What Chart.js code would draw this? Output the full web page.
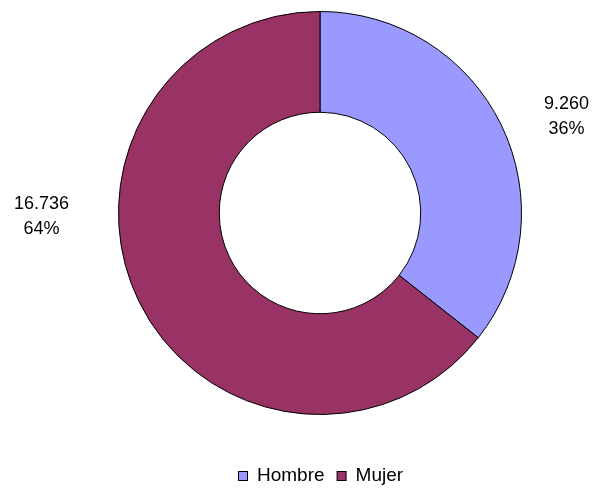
<!DOCTYPE html>
<html>
<head>
<meta charset="utf-8">
<script src="https://cdn.jsdelivr.net/npm/chart.js@4.4.1/dist/chart.umd.min.js"></script>
<style>
  html, body { margin: 0; padding: 0; background: #ffffff; }
  #wrap { position: relative; width: 592px; height: 488px; }
</style>
</head>
<body>
<div id="wrap"><canvas id="chart" width="592" height="488"></canvas></div>
<script>
// Data
const categories = ['Hombre', 'Mujer'];
const values = [9260, 16736];
const sliceColors = ['#9999ff', '#993366'];

const LABEL_FONT = '18px "Liberation Sans", Arial, sans-serif';
const LEGEND_FONT = '19px "Liberation Sans", Arial, sans-serif';

function fmtNumber(v) {
    return v.toString().replace(/\B(?=(\d{3})+(?!\d))/g, '.');
}

// Value + percent labels beside each slice
const sliceLabels = {
    id: 'sliceLabels',
    afterDatasetsDraw(chart) {
        const ctx = chart.ctx;
        const meta = chart.getDatasetMeta(0);
        const total = values.reduce((a, b) => a + b, 0);
        ctx.save();
        ctx.font = LABEL_FONT;
        ctx.fillStyle = '#000';
        ctx.textAlign = 'center';
        ctx.textBaseline = 'middle';
        meta.data.forEach((arc, i) => {
            const r = arc.outerRadius;
            let x, y;
            if (i === 0) {
                x = arc.x + r + 45;
                y = arc.y - r * 0.48;
            } else {
                x = arc.x - r - 77;
                y = arc.y + 3;
            }
            const pct = Math.round(values[i] / total * 100) + '%';
            ctx.fillText(fmtNumber(values[i]), x, y - 12);
            ctx.fillText(pct, x, y + 13);
        });
        ctx.restore();
    }
};

// Legend drawn at the bottom
const bottomLegend = {
    id: 'bottomLegend',
    afterDraw(chart) {
        const ctx = chart.ctx;
        ctx.save();
        ctx.font = LEGEND_FONT;
        ctx.textBaseline = 'middle';
        const box = 9, gap = 10, itemGap = 12;
        const widths = categories.map(c => box + gap + ctx.measureText(c).width);
        let x = 238;
        const y = 476;
        categories.forEach((c, i) => {
            ctx.fillStyle = sliceColors[i];
            ctx.fillRect(x + 0.5, y - 4.5, box, box);
            ctx.strokeStyle = '#000';
            ctx.lineWidth = 1;
            ctx.strokeRect(x + 0.5, y - 4.5, box, box);
            ctx.fillStyle = '#000';
            ctx.fillText(c, x + box + gap, y);
            x += widths[i] + itemGap;
        });
        ctx.restore();
    }
};

new Chart(document.getElementById('chart'), {
    type: 'doughnut',
    data: {
        labels: categories,
        datasets: [{
            data: values,
            backgroundColor: sliceColors,
            borderColor: '#000000',
            borderWidth: 1,
            borderAlign: 'center',
            hoverOffset: 0,
        }]
    },
    options: {
        responsive: false,
        animation: false,
        cutout: '50%',
        layout: {
            padding: { left: 118, right: 70, top: 10, bottom: 72 }
        },
        plugins: {
            legend: { display: false },
            tooltip: { enabled: false }
        }
    },
    plugins: [sliceLabels, bottomLegend]
});
</script>
</body>
</html>
